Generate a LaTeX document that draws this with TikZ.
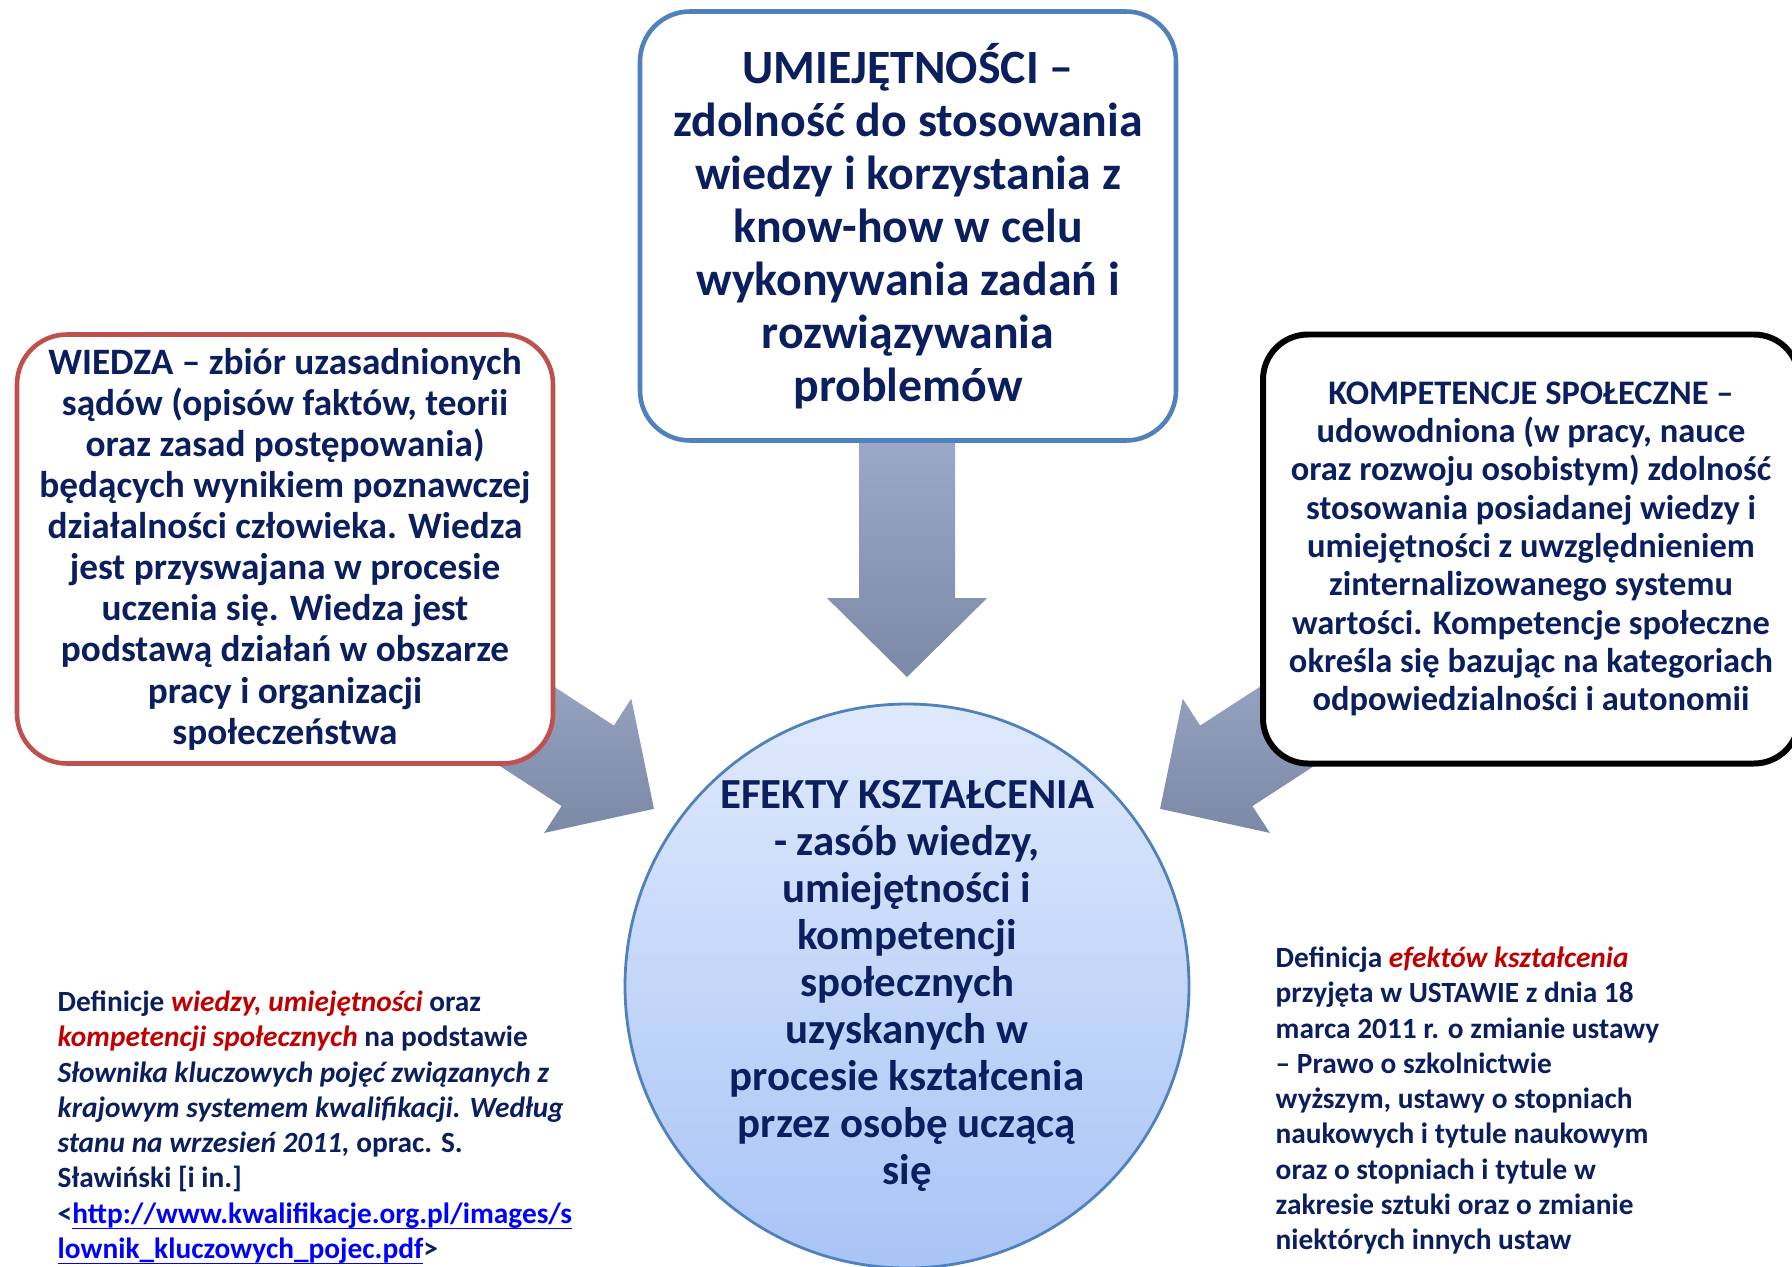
\documentclass[tikz,border=0pt]{standalone}
\usepackage{fontspec}
\setmainfont{Carlito}
\usetikzlibrary{calc,backgrounds}
\definecolor{navytext}{HTML}{0B1F5E}
\definecolor{defred}{HTML}{C00000}
\definecolor{linkblue}{HTML}{0000FF}
\definecolor{skillblue}{HTML}{4F81BD}
\definecolor{knowred}{HTML}{C0504D}
\definecolor{arrowtop}{HTML}{9DABC9}
\definecolor{arrowbottom}{HTML}{7B89A6}
\definecolor{effecttop}{HTML}{DFE9FC}
\definecolor{effectbottom}{HTML}{A8C4F6}
\tikzset{
  defbox/.style={rectangle,rounded corners=5mm,fill=white,line width=1.3pt,
    minimum width=53.6mm,minimum height=42.9mm,align=center,inner sep=0pt},
  reftext/.style={anchor=north west,align=left,inner sep=0pt,
    font=\bfseries\fontsize{8.35}{10.05}\selectfont},
  blockarrow/.style={top color=arrowtop,bottom color=arrowbottom}
}
\begin{document}
\begin{tikzpicture}[x=0.1mm,y=-0.1mm,font=\bfseries,text=navytext]
  \useasboundingbox (0,0) rectangle (1792,1266);
  \clip (0,0) rectangle (1792,1266);
  \node[defbox,draw=skillblue,font=\bfseries\fontsize{13.6}{15.05}\selectfont] (skills) at (908,226)
    {UMIEJĘTNOŚCI –\\zdolność do stosowania\\wiedzy i korzystania z\\know-how w celu\\wykonywania zadań i\\rozwiązywania\\problemów};
  \node[defbox,draw=knowred,font=\bfseries\fontsize{10.6}{11.7}\selectfont] (knowledge) at (285,549)
    {WIEDZA – zbiór uzasadnionych\\sądów (opisów faktów, teorii\\oraz zasad postępowania)\\będących wynikiem poznawczej\\działalności człowieka. Wiedza\\jest przyswajana w procesie\\uczenia się. Wiedza jest\\podstawą działań w obszarze\\pracy i organizacji\\społeczeństwa};
  \node[defbox,draw=black,line width=1.7pt,rounded corners=4.5mm,font=\bfseries\fontsize{9.8}{10.9}\selectfont] (social) at (1531,549)
    {KOMPETENCJE SPOŁECZNE –\\udowodniona (w pracy, nauce\\oraz rozwoju osobistym) zdolność\\stosowania posiadanej wiedzy i\\umiejętności z uwzględnieniem\\zinternalizowanego systemu\\wartości. Kompetencje społeczne\\określa się bazując na kategoriach\\odpowiedzialności i autonomii};
  \node[circle,minimum size=56.4mm,inner sep=0pt,draw=skillblue,line width=0.8pt,
    top color=effecttop,bottom color=effectbottom,align=center,
    font=\bfseries\fontsize{12.2}{13.4}\selectfont] (effects) at (907,986)
    {EFEKTY KSZTAŁCENIA\\- zasób wiedzy,\\umiejętności i\\kompetencji\\społecznych\\uzyskanych w\\procesie kształcenia\\przez osobę uczącą\\się};
  \coordinate (downtip) at ($(effects.center)!1.09!(effects.90)$);
  \coordinate (lefttip) at ($(effects.center)!1.09!(effects.145)$);
  \coordinate (righttip) at ($(effects.center)!1.09!(effects.35)$);
  \begin{scope}[on background layer]
    \foreach \tip/\turn in {downtip/-90,lefttip/-33,righttip/-147}
      \shade[blockarrow,shift={(\tip)},rotate=\turn]
        (0,0)--(-79,80)--(-79,48)--(-249,48)--(-249,-48)--(-79,-48)--(-79,-80)--cycle;
  \end{scope}
  \node[reftext] (wordsource) at (57,990)
    {Definicje \textcolor{defred}{\itshape wiedzy, umiejętności} oraz\\
     \textcolor{defred}{\itshape kompetencji społecznych} na podstawie\\
     {\itshape Słownika kluczowych pojęć związanych z}\\
     {\itshape krajowym systemem kwalifikacji. Według}\\
     {\itshape stanu na wrzesień 2011,} oprac. S.\\
     Sławiński [i in.]\\
     <\textcolor{linkblue}{\underline{\smash{http://www.kwalifikacje.org.pl/images/s}}}\\
     \textcolor{linkblue}{\underline{\smash{lownik\_kluczowych\_pojec.pdf}}}>};
  \node[reftext] (lawsource) at (1275,946)
    {Definicja \textcolor{defred}{\itshape efektów kształcenia}\\
     przyjęta w USTAWIE z dnia 18\\
     marca 2011 r. o zmianie ustawy\\
     – Prawo o szkolnictwie\\
     wyższym, ustawy o stopniach\\
     naukowych i tytule naukowym\\
     oraz o stopniach i tytule w\\
     zakresie sztuki oraz o zmianie\\
     niektórych innych ustaw};
\end{tikzpicture}
\end{document}
